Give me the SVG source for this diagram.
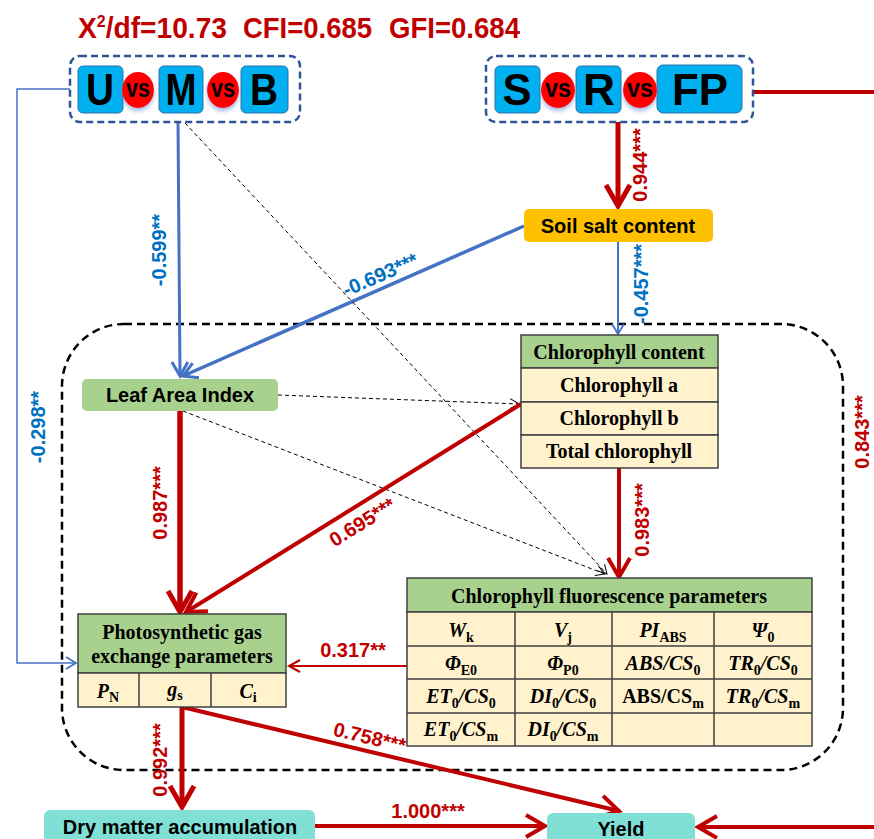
<svg xmlns="http://www.w3.org/2000/svg" width="874" height="839" viewBox="0 0 874 839">
<style>
.sans{font-family:"Liberation Sans",Arial,sans-serif;font-weight:bold}
.serif{font-family:"Liberation Serif","Times New Roman",serif;font-weight:bold;font-size:20px;fill:#000}
.bi{font-style:italic}
.sb{font-size:14px;font-style:normal}
.title{fill:#C00000;font-size:30px}
.letter{font-size:45px;fill:#000}
.vs{font-size:26px;fill:#000}
.lbox{fill:#00B0F0;stroke:#2F6FA8;stroke-width:1}
.vsc{fill:#FF0000}
.grp{fill:none;stroke:#2F5597;stroke-width:2.5;stroke-dasharray:7 4}
.node{font-size:20px;fill:#000}
.hdr{fill:#A9D18E;stroke:#404040;stroke-width:1.5}
.row{fill:#FFF2CC;stroke:#404040;stroke-width:1.5}
.grid{stroke:#404040;stroke-width:1.5;fill:none}
.red{stroke:#C00000;fill:none}
.blue{stroke:#4472C4;fill:none}
.dash{stroke:#000;stroke-width:1;stroke-dasharray:4 3;fill:none}
.lr{fill:#C00000;font-size:20px}
.lb{fill:#0070C0;font-size:20px}
</style>
<defs>
<filter id="sh" x="-30%" y="-30%" width="160%" height="170%">
<feDropShadow dx="0" dy="3" stdDeviation="2" flood-color="#6C8FD6" flood-opacity="0.6"/>
</filter>
<marker id="aRL" markerUnits="userSpaceOnUse" markerWidth="30" markerHeight="30" refX="0" refY="0" orient="auto" overflow="visible">
<path d="M-21,-12 L0,0 L-21,12" fill="none" stroke="#C00000" stroke-width="5" stroke-dasharray="none"/>
</marker>
<marker id="aRM" markerUnits="userSpaceOnUse" markerWidth="30" markerHeight="30" refX="0" refY="0" orient="auto" overflow="visible">
<path d="M-19,-11 L0,0 L-19,11" fill="none" stroke="#C00000" stroke-width="4" stroke-dasharray="none"/>
</marker>
<marker id="aRS" markerUnits="userSpaceOnUse" markerWidth="20" markerHeight="20" refX="0" refY="0" orient="auto" overflow="visible">
<path d="M-11,-6 L0,0 L-11,6" fill="none" stroke="#C00000" stroke-width="2" stroke-dasharray="none"/>
</marker>
<marker id="aBL" markerUnits="userSpaceOnUse" markerWidth="20" markerHeight="20" refX="0" refY="0" orient="auto" overflow="visible">
<path d="M-14,-8 L0,0 L-14,8" fill="none" stroke="#4472C4" stroke-width="3" stroke-dasharray="none"/>
</marker>
<marker id="aBS" markerUnits="userSpaceOnUse" markerWidth="20" markerHeight="20" refX="0" refY="0" orient="auto" overflow="visible">
<path d="M-10,-6 L0,0 L-10,6" fill="none" stroke="#4472C4" stroke-width="1.8" stroke-dasharray="none"/>
</marker>
<marker id="aK" markerUnits="userSpaceOnUse" markerWidth="20" markerHeight="20" refX="0" refY="0" orient="auto" overflow="visible">
<path d="M-9,-5 L0,0 L-9,5" fill="none" stroke="#000" stroke-width="1" stroke-dasharray="none"/>
</marker>
</defs>
<rect width="874" height="839" fill="#fff"/>

<g id="fit-indices" class="sans title">
<text x="78" y="38" textLength="149" lengthAdjust="spacingAndGlyphs">X<tspan font-size="17" dy="-11">2</tspan><tspan dy="11">/df=10.73</tspan></text>
<text x="243" y="38" textLength="129" lengthAdjust="spacingAndGlyphs">CFI=0.685</text>
<text x="389" y="38" textLength="131" lengthAdjust="spacingAndGlyphs">GFI=0.684</text>
</g>

<g id="big-frame">
<rect x="62" y="324" width="781" height="446" rx="62" fill="none" stroke="#000" stroke-width="2.5" stroke-dasharray="8 5"/>
</g>

<g id="connectors">
<line class="blue" x1="178" y1="122" x2="180" y2="376" stroke-width="3" marker-end="url(#aBL)"/>
<line class="blue" x1="524" y1="226" x2="183" y2="376" stroke-width="3.5" marker-end="url(#aBL)"/>
<line class="blue" x1="618" y1="242" x2="618" y2="334" stroke-width="2" marker-end="url(#aBS)"/>
<polyline class="blue" points="70,89 17,89 17,663 76,663" stroke-width="1.5" marker-end="url(#aBS)"/>
<line class="red" x1="618" y1="122" x2="618" y2="206" stroke-width="5" marker-end="url(#aRL)"/>
<line class="red" x1="753" y1="92" x2="874" y2="92" stroke-width="4"/>
<line class="red" x1="874" y1="827" x2="698" y2="827" stroke-width="4" marker-end="url(#aRM)"/>
<line class="dash" x1="185" y1="123" x2="607" y2="574" marker-end="url(#aK)"/>
<line class="dash" x1="278" y1="395" x2="519" y2="404" marker-end="url(#aK)"/>
<line class="dash" x1="183" y1="411" x2="605" y2="574" marker-end="url(#aK)"/>
<line class="red" x1="180" y1="411" x2="180" y2="612" stroke-width="5.5" marker-end="url(#aRL)"/>
<line class="red" x1="521" y1="404" x2="186" y2="612" stroke-width="4" marker-end="url(#aRM)"/>
<line class="red" x1="619" y1="468" x2="619" y2="577" stroke-width="4" marker-end="url(#aRM)"/>
<line class="red" x1="407" y1="666" x2="289" y2="666" stroke-width="2" marker-end="url(#aRS)"/>
<line class="red" x1="182" y1="707" x2="182" y2="807" stroke-width="5" marker-end="url(#aRL)"/>
<line class="red" x1="182" y1="707" x2="619" y2="811" stroke-width="4" marker-end="url(#aRM)"/>
<line class="red" x1="315" y1="826" x2="545" y2="826" stroke-width="4" marker-end="url(#aRM)"/>

<g class="sans" text-anchor="middle">
<text class="lb" transform="translate(166,250) rotate(-90)">-0.599**</text>
<text class="lb" transform="translate(383,281) rotate(-23.5)">-0.693***</text>
<text class="lr" transform="translate(647,165) rotate(-90)">0.944***</text>
<text class="lb" transform="translate(648,284) rotate(-90)">-0.457***</text>
<text class="lb" transform="translate(45,427) rotate(-90)">-0.298**</text>
<text class="lr" transform="translate(167,503) rotate(-90)">0.987***</text>
<text class="lr" transform="translate(366,528) rotate(-32)">0.695***</text>
<text class="lr" transform="translate(649,520) rotate(-90)">0.983***</text>
<text class="lr" transform="translate(869,432) rotate(-90)">0.843***</text>
<text class="lr" x="353" y="657">0.317**</text>
<text class="lr" transform="translate(167,760) rotate(-90)">0.992***</text>
<text class="lr" transform="translate(368,744) rotate(13.4)">0.758***</text>
<text class="lr" x="428" y="818">1.000***</text>
</g>
</g>

<g id="U-M-B">
<rect class="grp" x="70" y="56" width="230" height="66" rx="10"/>
<rect class="lbox" x="78" y="66" width="45" height="47" rx="5"/>
<rect class="lbox" x="159" y="66" width="44" height="47" rx="5"/>
<rect class="lbox" x="241" y="66" width="47" height="47" rx="5"/>
<ellipse class="vsc" cx="138" cy="90" rx="16" ry="18" filter="url(#sh)"/>
<ellipse class="vsc" cx="223" cy="90" rx="16" ry="18" filter="url(#sh)"/>
<g class="sans" text-anchor="middle">
<text class="letter" x="100" y="105" textLength="28" lengthAdjust="spacingAndGlyphs">U</text>
<text class="letter" x="181" y="105" textLength="31" lengthAdjust="spacingAndGlyphs">M</text>
<text class="letter" x="264" y="105" textLength="28" lengthAdjust="spacingAndGlyphs">B</text>
<text class="vs" x="138" y="97" textLength="24" lengthAdjust="spacingAndGlyphs">vs</text>
<text class="vs" x="223" y="97" textLength="24" lengthAdjust="spacingAndGlyphs">vs</text>
</g>
</g>

<g id="S-R-FP">
<rect class="grp" x="486" y="56" width="267" height="66" rx="10"/>
<rect class="lbox" x="495" y="66" width="45" height="47" rx="5"/>
<rect class="lbox" x="576" y="66" width="45" height="47" rx="5"/>
<rect class="lbox" x="657" y="65" width="85" height="48" rx="6"/>
<ellipse class="vsc" cx="558" cy="90" rx="17" ry="18" filter="url(#sh)"/>
<ellipse class="vsc" cx="640" cy="90" rx="17" ry="18" filter="url(#sh)"/>
<g class="sans" text-anchor="middle">
<text class="letter" x="517" y="105" textLength="29" lengthAdjust="spacingAndGlyphs">S</text>
<text class="letter" x="599" y="105" textLength="32" lengthAdjust="spacingAndGlyphs">R</text>
<text class="letter" x="700" y="105" textLength="56" lengthAdjust="spacingAndGlyphs">FP</text>
<text class="vs" x="558" y="97" textLength="26" lengthAdjust="spacingAndGlyphs">vs</text>
<text class="vs" x="640" y="97" textLength="26" lengthAdjust="spacingAndGlyphs">vs</text>
</g>
</g>

<g id="soil-salt">
<rect x="524" y="209" width="189" height="33" rx="5" fill="#FFC000"/>
<text class="sans node" x="618" y="233" text-anchor="middle">Soil salt content</text>
</g>

<g id="leaf-area-index">
<rect x="82" y="379" width="196" height="32" rx="5" fill="#A9D18E"/>
<text class="sans node" x="180" y="402" text-anchor="middle">Leaf Area Index</text>
</g>

<g id="chlorophyll-content">
<rect class="hdr" x="521" y="335" width="197" height="33"/>
<rect class="row" x="521" y="368" width="197" height="34"/>
<rect class="row" x="521" y="402" width="197" height="33"/>
<rect class="row" x="521" y="435" width="197" height="33"/>
<g class="serif" text-anchor="middle">
<text x="619" y="359">Chlorophyll content</text>
<text x="619" y="392">Chlorophyll a</text>
<text x="619" y="425">Chlorophyll b</text>
<text x="619" y="458">Total chlorophyll</text>
</g>
</g>

<g id="photosynthetic">
<rect class="hdr" x="78" y="614" width="208" height="59"/>
<rect class="row" x="78" y="673" width="208" height="34"/>
<path class="grid" d="M139,673 V707 M211,673 V707"/>
<g class="serif" text-anchor="middle">
<text x="182" y="639">Photosynthetic gas</text>
<text x="182" y="663">exchange parameters</text>
<text x="108" y="698"><tspan class="bi">P</tspan><tspan class="sb" dy="4">N</tspan></text>
<text x="175" y="696"><tspan class="bi">g</tspan><tspan class="sb" dy="4">s</tspan></text>
<text x="248" y="698"><tspan class="bi">C</tspan><tspan class="sb" dy="4">i</tspan></text>
</g>
</g>

<g id="fluorescence">
<rect class="hdr" x="407" y="578" width="405" height="34"/>
<rect class="row" x="407" y="612" width="405" height="134"/>
<path class="grid" d="M407,646 H812 M407,679 H812 M407,713 H812 M515,612 V746 M612,612 V746 M714,612 V746"/>
<g class="serif" text-anchor="middle">
<text x="609" y="603">Chlorophyll fluorescence parameters</text>
<text x="461" y="637"><tspan class="bi">W</tspan><tspan class="sb" dy="5">k</tspan></text>
<text x="563" y="637"><tspan class="bi">V</tspan><tspan class="sb" dy="5">j</tspan></text>
<text x="663" y="637"><tspan class="bi">PI</tspan><tspan class="sb" dy="5">ABS</tspan></text>
<text x="763" y="637"><tspan class="bi">Ψ</tspan><tspan class="sb" dy="5">0</tspan></text>
<text x="461" y="670"><tspan class="bi">Φ</tspan><tspan class="sb" dy="5">E0</tspan></text>
<text x="563" y="670"><tspan class="bi">Φ</tspan><tspan class="sb" dy="5">P0</tspan></text>
<text x="663" y="670"><tspan class="bi">ABS/CS</tspan><tspan class="sb" dy="5">0</tspan></text>
<text x="763" y="670"><tspan class="bi">TR</tspan><tspan class="sb" dy="5">0</tspan><tspan class="bi" dy="-5">/CS</tspan><tspan class="sb" dy="5">0</tspan></text>
<text x="461" y="703"><tspan class="bi">ET</tspan><tspan class="sb" dy="5">0</tspan><tspan class="bi" dy="-5">/CS</tspan><tspan class="sb" dy="5">0</tspan></text>
<text x="563" y="703"><tspan class="bi">DI</tspan><tspan class="sb" dy="5">0</tspan><tspan class="bi" dy="-5">/CS</tspan><tspan class="sb" dy="5">0</tspan></text>
<text x="663" y="703">ABS/CS<tspan class="sb" dy="5">m</tspan></text>
<text x="763" y="703"><tspan class="bi">TR</tspan><tspan class="sb" dy="5">0</tspan><tspan class="bi" dy="-5">/CS</tspan><tspan class="sb" dy="5">m</tspan></text>
<text x="461" y="736"><tspan class="bi">ET</tspan><tspan class="sb" dy="5">0</tspan><tspan class="bi" dy="-5">/CS</tspan><tspan class="sb" dy="5">m</tspan></text>
<text x="563" y="736"><tspan class="bi">DI</tspan><tspan class="sb" dy="5">0</tspan><tspan class="bi" dy="-5">/CS</tspan><tspan class="sb" dy="5">m</tspan></text>
</g>
</g>

<g id="dry-matter">
<rect x="44" y="810" width="271" height="40" rx="6" fill="#80E0D6"/>
<text class="sans node" x="180" y="834" text-anchor="middle">Dry matter accumulation</text>
</g>

<g id="yield">
<rect x="547" y="813" width="148" height="40" rx="6" fill="#80E0D6"/>
<text class="sans node" x="621" y="836" text-anchor="middle">Yield</text>
</g>
</svg>
